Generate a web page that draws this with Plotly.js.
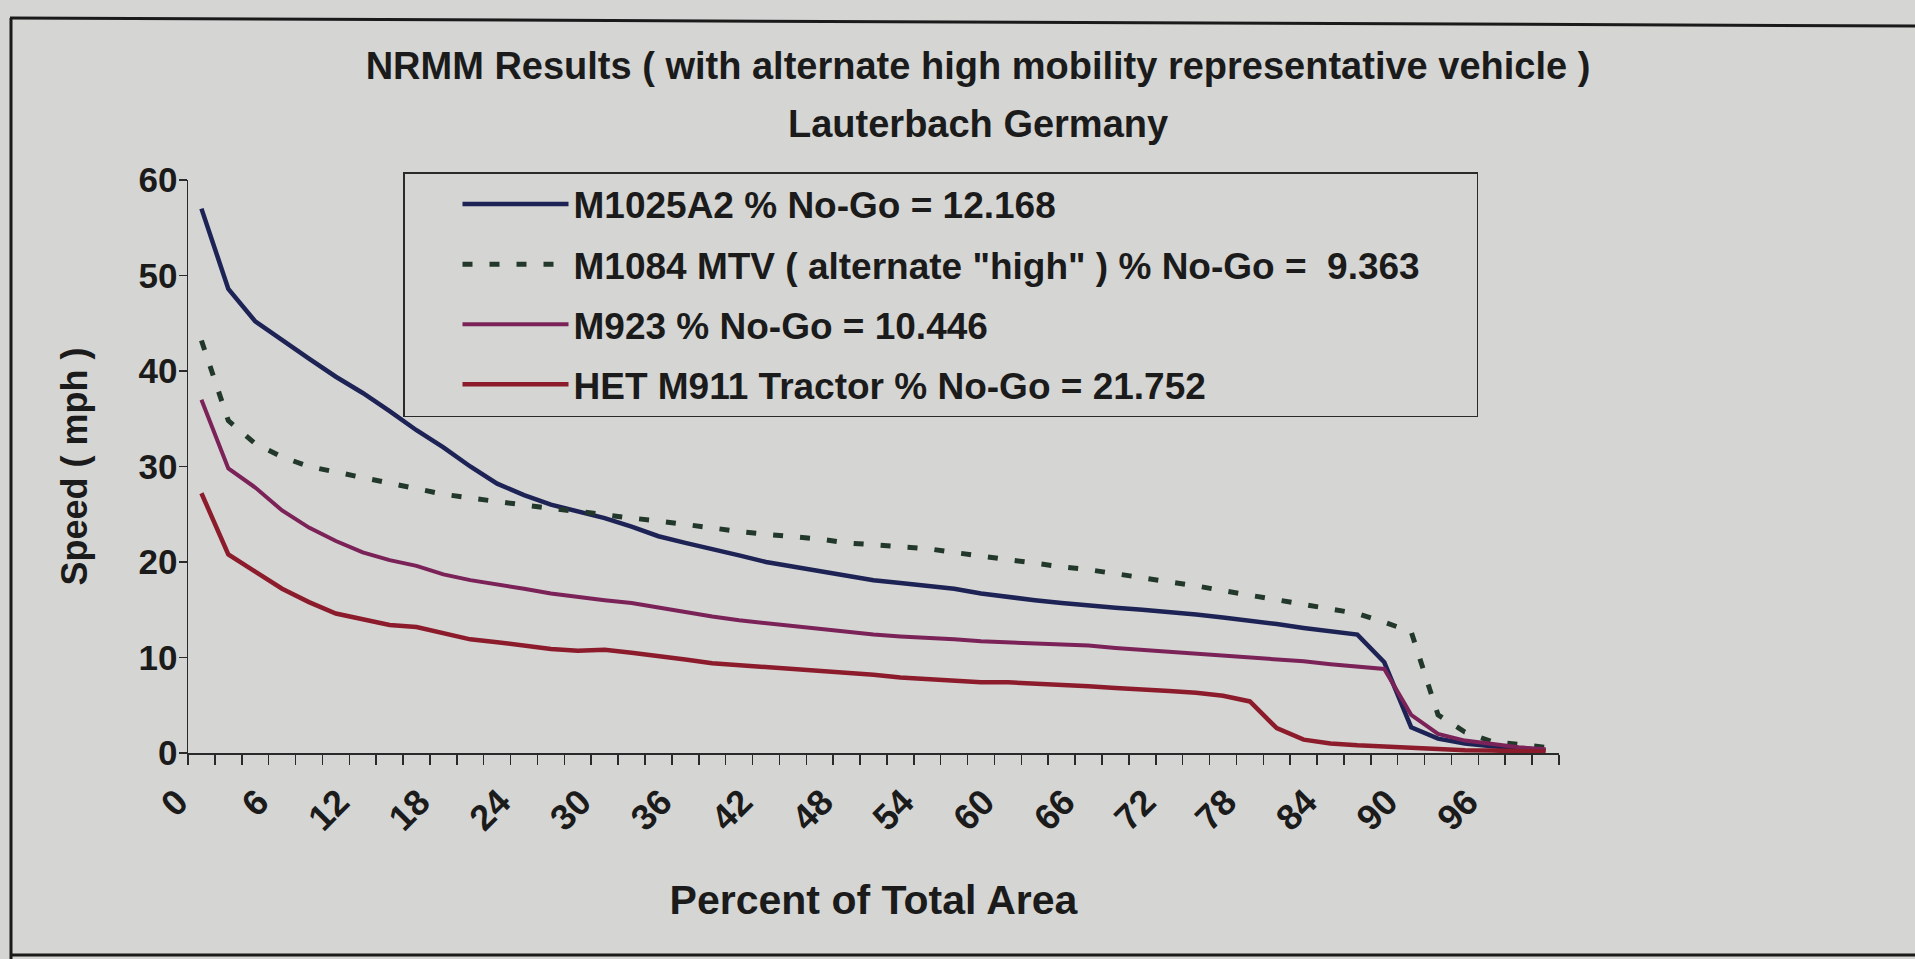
<!DOCTYPE html>
<html>
<head>
<meta charset="utf-8">
<script src="https://cdn.plot.ly/plotly-3.0.1.min.js"></script>
<style>
html,body{margin:0;padding:0;background:#d5d5d3;}
#chart{width:1915px;height:959px;}
</style>
</head>
<body>
<div id="chart"></div>
<script>
// Percent of total area (category values)
const percentArea = [0,2,4,6,8,10,12,14,16,18,20,22,24,26,28,30,32,34,36,38,40,42,44,46,48,50,52,54,56,58,60,62,64,66,68,70,72,74,76,78,80,82,84,86,88,90,92,94,96,98,100];

// Speeds (mph)
const m1025a2 = [57.0,48.6,45.2,43.2,41.3,39.4,37.7,35.8,33.8,32.0,30.0,28.2,27.0,26.0,25.3,24.6,23.7,22.7,22.0,21.4,20.7,20.0,19.5,19.0,18.6,18.1,17.8,17.5,17.2,16.7,16.3,16.0,15.7,15.4,15.2,15.0,14.8,14.5,14.2,13.9,13.5,13.1,12.8,12.4,9.5,2.7,1.5,1.0,0.7,0.5,0.3];
const m1084mtv = [43.2,34.8,32.4,31.0,30.0,29.4,28.8,28.2,27.6,27.1,26.7,26.3,25.9,25.6,25.3,24.9,24.6,24.3,23.9,23.6,23.2,22.9,22.7,22.4,22.0,21.8,21.6,21.4,21.0,20.6,20.2,19.9,19.5,19.2,18.8,18.3,17.9,17.5,17.0,16.5,16.0,15.5,15.0,14.6,13.7,12.7,4.0,2.2,1.2,0.9,0.6];
const m923 = [37.0,29.8,27.8,25.4,23.6,22.2,21.0,20.2,19.6,18.7,18.1,17.7,17.2,16.7,16.3,16.0,15.7,15.2,14.7,14.3,13.9,13.6,13.3,12.9,12.6,12.4,12.2,12.1,11.9,11.7,11.6,11.5,11.4,11.25,11.0,10.8,10.6,10.4,10.3,10.1,9.85,9.6,9.3,9.1,8.8,4.0,2.0,1.3,0.9,0.6,0.4];
const hetM911 = [27.2,20.8,19.0,17.2,15.8,14.6,14.0,13.4,13.2,12.6,11.9,11.6,11.2,10.9,10.7,10.8,10.5,10.2,9.8,9.4,9.2,9.0,8.8,8.7,8.5,8.2,7.9,7.7,7.5,7.4,7.4,7.3,7.1,7.0,6.8,6.7,6.5,6.3,6.0,5.4,2.6,1.4,1.0,0.8,0.65,0.5,0.4,0.3,0.25,0.2,0.15];

// Series names
const seriesNames = [
  'M1025A2 % No-Go = 12.168',
  'M1084 MTV ( alternate "high" ) % No-Go = \u00a09.363\u00a0\u00a0\u00a0\u00a0\u00a0',
  'M923 % No-Go = 10.446',
  'HET M911 Tractor % No-Go = 21.752'
];

// Titles
const titleLine1 = 'NRMM Results ( with alternate high mobility representative vehicle )';
const titleLine2 = 'Lauterbach Germany';

// Tick labels
const xTickVals = [0,6,12,18,24,30,36,42,48,54,60,66,72,78,84,90,96];
const yTickVals = [0,10,20,30,40,50,60];

const FONT = '"Liberation Sans", Arial, sans-serif';
const INK = '#1b1b1b';
const BG = '#d5d5d3';

const traces = [
  {x: percentArea, y: m1025a2, name: seriesNames[0], legendgroup: 'a', mode: 'lines',
   line: {color: '#1e2356', width: 4.5}},
  {x: percentArea, y: m1084mtv, name: seriesNames[1], legendgroup: 'b', mode: 'lines',
   line: {color: '#22382a', width: 5, dash: '10px,17px'}},
  {x: percentArea, y: m923, name: seriesNames[2], legendgroup: 'c', mode: 'lines',
   line: {color: '#7b2358', width: 4}},
  {x: percentArea, y: hetM911, name: seriesNames[3], legendgroup: 'd', mode: 'lines',
   line: {color: '#8c1c2c', width: 4.5}}
];

// plot area: x 188..1559, y 180..753 (px)
const L = 188, R = 1559, T = 180, B = 753;
const px2x = p => (p - L) / (R - L);
const py2y = p => (B - p) / (B - T);

const layout = {
  width: 1915, height: 959,
  paper_bgcolor: BG, plot_bgcolor: BG,
  margin: {l: L, r: 1915 - R, t: T, b: 959 - B, pad: 0},
  font: {family: FONT, color: INK, size: 30, weight: 'bold'},
  title: {
    text: titleLine1,
    font: {family: FONT, size: 38, color: INK, weight: 'bold'},
    xref: 'container', x: 978/1915, xanchor: 'center',
    yref: 'container', y: 1 - 52/959, yanchor: 'top'
  },
  annotations: [
    {text: titleLine2, xref: 'paper', yref: 'paper', x: px2x(978), y: py2y(124),
     xanchor: 'center', yanchor: 'middle', showarrow: false,
     font: {family: FONT, size: 38, color: INK, weight: 'bold'}}
  ],
  showlegend: true,
  legend: {
    x: px2x(403), xanchor: 'left', y: py2y(172), yanchor: 'top',
    bgcolor: 'rgba(0,0,0,0)', bordercolor: '#2a2a2a', borderwidth: 1.5,
    font: {family: FONT, size: 37, color: INK, weight: 'bold'},
    itemwidth: 106, tracegroupgap: 9, indentation: 53,
    itemclick: false
  },
  xaxis: {
    type: 'linear', range: [-1, 101], fixedrange: true,
    showgrid: false, zeroline: false,
    showline: true, linecolor: '#2a2a2a', linewidth: 1.5,
    tickmode: 'array', tickvals: xTickVals, ticktext: xTickVals.map(String),
    ticks: '', tickangle: -45, ticklabelstandoff: 12, ticklabelshift: -24,
    tickfont: {family: FONT, size: 36, color: INK, weight: 'bold'},
    minor: {tickmode: 'linear', tick0: -1, dtick: 2, ticks: 'outside', ticklen: 10, tickwidth: 1.5, tickcolor: '#2a2a2a', showgrid: false},
    title: {text: 'Percent of Total Area', standoff: 48,
            font: {family: FONT, size: 41, color: INK, weight: 'bold'}}
  },
  yaxis: {
    range: [0, 60], fixedrange: true,
    showgrid: false, zeroline: false,
    showline: true, linecolor: '#2a2a2a', linewidth: 1.5,
    tickmode: 'array', tickvals: yTickVals, ticktext: yTickVals.map(String),
    ticks: 'outside', ticklen: 8, tickwidth: 1.5, tickcolor: '#2a2a2a',
    ticklabelstandoff: -6,
    tickfont: {family: FONT, size: 35, color: INK, weight: 'bold'},
    title: {text: 'Speed ( mph )', standoff: 40,
            font: {family: FONT, size: 36, color: INK, weight: 'bold'}}
  },
  shapes: [
    {type: 'line', xref: 'paper', yref: 'paper', x0: px2x(11), x1: px2x(11), y0: py2y(18), y1: py2y(959), line: {color: '#1a1a1a', width: 3}},
    {type: 'line', xref: 'paper', yref: 'paper', x0: px2x(10), x1: px2x(1915), y0: py2y(18), y1: py2y(26), line: {color: '#1a1a1a', width: 3}},
    {type: 'line', xref: 'paper', yref: 'paper', x0: px2x(10), x1: px2x(1915), y0: py2y(955), y1: py2y(955), line: {color: '#1a1a1a', width: 3}}
  ]
};

Plotly.newPlot('chart', traces, layout, {displayModeBar: false, staticPlot: true});
</script>
</body>
</html>
